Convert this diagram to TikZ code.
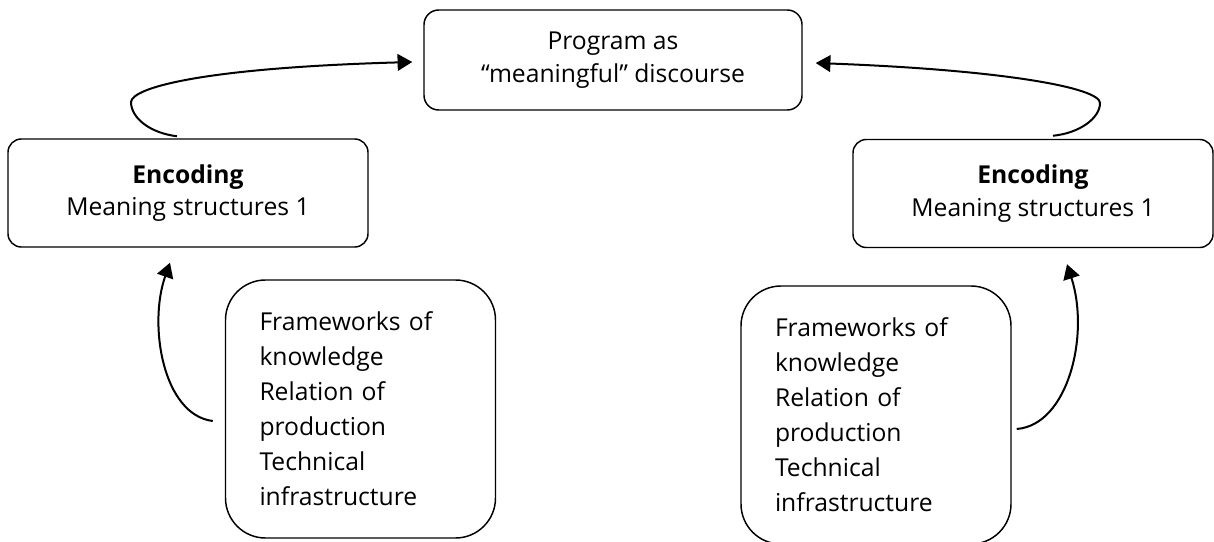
\documentclass[tikz,border=0pt]{standalone}
\usepackage{fontspec}
\setmainfont{Open Sans}
\usepackage{tikz}
\usetikzlibrary{calc,
	positioning,
	arrows.meta}
\tikzstyle{bx}=[draw, line width=1.1pt, inner sep=0pt, align=center,
		font=\fontsize{18.5}{24.5}\selectfont]
\tikzstyle{tp}=[bx, rounded corners=11pt, minimum width=283.5pt, minimum height=75pt]
\tikzstyle{enc}=[bx, rounded corners=10pt, minimum width=270pt, minimum height=81pt]
\tikzstyle{info}=[bx, rounded corners=30pt, minimum width=202.5pt, minimum height=193.5pt,
		text width=151.5pt, align=left, font=\fontsize{18.5}{26.25}\selectfont]
\tikzstyle{conn}=[line width=1.5pt, -{Triangle[length=11pt, width=12.5pt]}]

\begin{document}
\begin{tikzpicture}[x=0.75pt, y=-0.75pt]
	\useasboundingbox (0,0) rectangle (1214,542);
	% boxes
	\node[tp] (prog) at (613,60) {Program as\\“meaningful” discourse};
	\node[enc] (encl) at (188,193) {\textbf{Encoding}\\Meaning structures 1};
	\node[enc] (encr) at (1033,193.5) {\textbf{Encoding}\\Meaning structures 1};
	\node[info] (infol) at (360.5,409) {Frameworks of\\knowledge\\Relation of\\production\\Technical\\infrastructure};
	\node[info] (infor) at (876,415) {Frameworks of\\knowledge\\Relation of\\production\\Technical\\infrastructure};
	% arrows
	\draw[conn] ($(encl.north)+(-11,-2)$) .. controls (150,133) and (131,118) .. (131,102)
		.. controls (132,88) and (200,68) .. ($(prog.west)+(-11,2)$);
	\draw[conn] ($(encr.north)+(20,-3)$) .. controls (1080,133) and (1100,118) .. (1100,103)
		.. controls (1100,88) and (1005,70) .. ($(prog.east)+(13,3)$);
	\draw[conn] ($(infol.west)+(-12,12)$) .. controls (163,415) and (148,325) .. ($(encl.south)+(-18,15)$);
	\draw[conn] ($(infor.east)+(5,14)$) .. controls (1068,425) and (1090,335) .. ($(encr.south)+(34,16)$);
\end{tikzpicture}
\end{document}
